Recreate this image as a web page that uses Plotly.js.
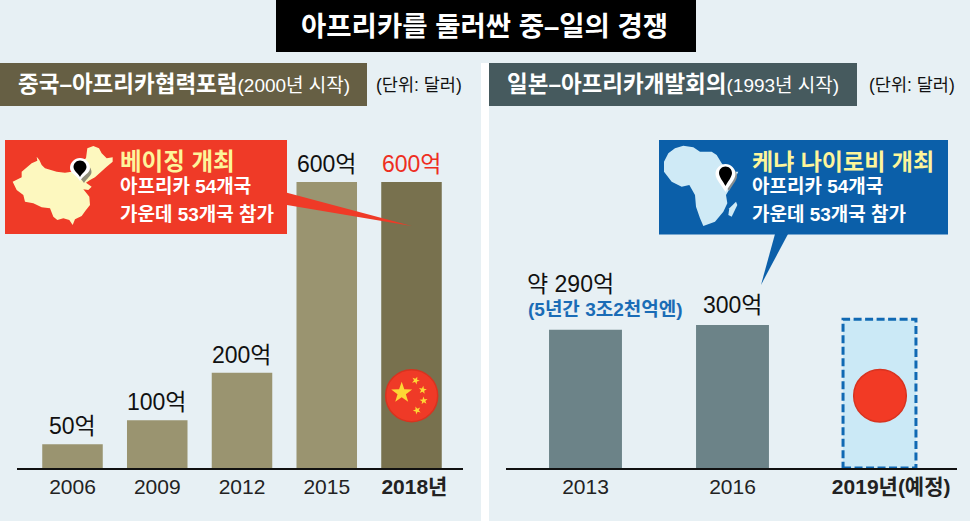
<!DOCTYPE html>
<html><head><meta charset="utf-8">
<script src="https://cdn.plot.ly/plotly-3.0.1.min.js"></script>
<style>html,body{margin:0;padding:0;background:#e7f0f4}</style></head>
<body><div id="chart" style="width:970px;height:521px"></div>
<script>
const W=970,H=521;
const FONT="'Liberation Sans','Noto Sans CJK KR',sans-serif";
const chinaYears=['2006','2009','2012','2015','\u00A0<b>2018년</b>'];
const chinaValues=[50,100,200,600,600];
const chinaLabels=['50억','100억','200억','600억','600억'];
const japanYears=['2013','2016','\u00A0\u00A0\u00A0\u00A0<b>2019년(예정)</b>'];
const japanValues=[290,300,312];
const japanLabels=['약 290억','300억',''];
const OLIVE='#9a9470',OLIVE_D='#78714e',SLATE='#6c8388',PLAN='#cbe9f6',RED='#ef3a27',BLUE='#0b5fa9',DASH='#1069b3',YEL='#fdf59b';

const px=x=>x/W, py=y=>1-y/H;
function pathOf(pts,closed=true){return 'M'+pts.map(p=>px(p[0])+','+py(p[1])).join(' L')+(closed?' Z':'');}
const fromZoom=(zs,ox,oy)=>zs.map(p=>[ox+p[0]/3,oy+p[1]/3]);
const shp=(o)=>Object.assign({xref:'paper',yref:'paper',layer:'above',line:{width:0}},o);
const rect=(x0,y0,x1,y1,fill,layer='above',line)=>shp({type:'rect',x0:px(x0),x1:px(x1),y0:py(y0),y1:py(y1),fillcolor:fill,layer,line:line||{width:0}});
const circ=(cx,cy,r,fill,line)=>shp({type:'circle',x0:px(cx-r),x1:px(cx+r),y0:py(cy-r),y1:py(cy+r),fillcolor:fill,line:line||{width:0}});
const poly=(pts,fill,line)=>shp({type:'path',path:pathOf(pts),fillcolor:fill,line:line||{width:0}});
function star(cx,cy,r,fill,rot=0){const a=[];for(let i=0;i<10;i++){const t=-Math.PI/2+rot+i*Math.PI/5,R=i%2?r*0.4:r;a.push([cx+R*Math.cos(t),cy+R*Math.sin(t)]);}return poly(a,fill);}
function pin(cx,cy,tipY,r,fill){const k=r*0.55;const P=(x,y)=>px(x)+','+py(y);
  return shp({type:'path',fillcolor:fill,path:'M'+P(cx,tipY)+' C'+P(cx-k*.6,tipY-r*.6)+' '+P(cx-r,cy+k)+' '+P(cx-r,cy)+' C'+P(cx-r,cy-k)+' '+P(cx-k,cy-r)+' '+P(cx,cy-r)+' C'+P(cx+k,cy-r)+' '+P(cx+r,cy-k)+' '+P(cx+r,cy)+' C'+P(cx+r,cy+k)+' '+P(cx+k*.6,tipY-r*.6)+' '+P(cx,tipY)+' Z'});}

const chinaOutline=[[262,55],[280,48],[297,55],[305,70],[320,85],[338,82],[338,95],[320,110],[300,128],[285,142],[270,150],[258,158],[275,170],[265,180],[250,178],[268,200],[270,225],[258,240],[245,258],[225,268],[218,285],[208,270],[190,265],[172,270],[160,260],[150,235],[125,232],[100,220],[75,215],[70,195],[50,180],[38,155],[65,142],[65,125],[95,100],[112,92],[110,80],[118,90],[125,105],[135,115],[170,125],[195,128],[215,125],[235,100],[258,85]];
const africaOutline=[[75,55],[100,47],[130,52],[150,65],[185,65],[200,75],[215,100],[235,125],[265,125],[255,145],[240,175],[228,195],[232,220],[220,245],[195,275],[160,288],[150,265],[138,230],[135,195],[118,165],[95,170],[65,155],[42,125],[42,95],[55,70]];
const madagascar=[[258,215],[262,225],[245,260],[235,255],[238,235]];

const base=468;
const shapes=[
 rect(481,63,489,521,'#ffffff','below'),
 rect(276,0,696,52,'#000000'),
 rect(0,63,367,106,'#665f44'),
 rect(489,63,857,106,'#465a5e'),
 // planned bar outline, on the data axes
 {type:'rect',xref:'x2',yref:'y2',x0:2-0.248,x1:2+0.248,y0:0,y1:japanValues[2],layer:'above',line:{color:DASH,width:3,dash:'8px,3.5px'}},
 // red callout
 poly([[287,192.7],[411.7,226],[287,205]],RED),
 rect(5,140,287,234,RED),
 poly(fromZoom(chinaOutline,0,130),'#fdf8bf'),
 pin(84,172,183,7.5,'#8f8d78'),
 pin(80,168,181,10,'#ffffff'),
 pin(80,167,177,6.5,'#000000'),
 // blue callout
 poly([[775,234],[788,234],[761,285]],BLUE),
 rect(659,140,948,234.5,BLUE),
 poly(fromZoom(africaOutline,650,130),'#cfeaf6'),
 poly(fromZoom(madagascar,650,130),'#cfeaf6'),
 pin(729,176,191,8,'#8a8f90'),
 pin(725.5,174,192,10,'#ffffff'),
 pin(725.5,173,186,6.5,'#000000'),
 // flags
 circ(411.7,395.7,26,'#ef3a27',{color:'#d8331f',width:1.5}),
 star(401.7,392.8,11,'#fdd835'),
 star(415.7,380.5,4.2,'#fdd835',0.4),
 star(422.7,390,4.2,'#fdd835',0.15),
 star(423.7,400.7,4.2,'#fdd835',-0.1),
 star(417,410.3,4.2,'#fdd835',-0.4),
 circ(880,395.7,26.3,'#f23a25',{color:'#d8331f',width:1.5}),
];
const txt=(x,y,text,size,color,anchor='left',extra={})=>Object.assign({xref:'paper',yref:'paper',x:px(x),y:py(y),text,showarrow:false,xanchor:anchor,yanchor:'middle',font:{family:FONT,size,color}},extra);
const annotations=[
 txt(484,26,'<b>아프리카를 둘러싼 중–일의 경쟁</b>',27.5,'#ffffff','center'),
 txt(16,85,'<b>중국–아프리카협력포럼</b><span style="font-size:19px">(2000년 시작)</span>',22.5,'#ffffff'),
 txt(505,85,'<b>일본–아프리카개발회의</b><span style="font-size:19px">(1993년 시작)</span>',22.5,'#ffffff'),
 txt(374,85,'(단위: 달러)',17.5,'#111111'),
 txt(867,85,'(단위: 달러)',17.5,'#111111'),
 txt(118,162,'<b>베이징 개최</b>',23.5,YEL),
 txt(118,187,'<b>아프리카 54개국</b>',19,'#ffffff'),
 txt(118,214,'<b>가운데 53개국 참가</b>',19,'#ffffff'),
 txt(750,162,'<b>케냐 나이로비 개최</b>',23,YEL),
 txt(750,187,'<b>아프리카 54개국</b>',19,'#ffffff'),
 txt(750,214,'<b>가운데 53개국 참가</b>',19,'#ffffff'),
 txt(605.5,309,'<b>(5년간 3조2천억엔)</b>',19,'#1a6cb6','center'),
];
chinaLabels.forEach((t,i)=>annotations.push({xref:'x',yref:'y',x:i,y:chinaValues[i],text:t,showarrow:false,yanchor:'bottom',yshift:3,font:{family:FONT,size:23,color:i===4?'#ee2e1f':'#111111'}}));
japanLabels.forEach((t,i)=>{if(t)annotations.push({xref:'x2',yref:'y2',x:i,y:japanValues[i],text:t,showarrow:false,yanchor:'bottom',xshift:i===0?-15:0,yshift:i===0?31:5,font:{family:FONT,size:23,color:'#111111'}});});

const data=[
 {type:'bar',x:chinaYears,y:chinaValues,xaxis:'x',yaxis:'y',width:0.714,marker:{color:[OLIVE,OLIVE,OLIVE,OLIVE,OLIVE_D]},hoverinfo:'skip'},
 {type:'bar',x:japanYears,y:japanValues,xaxis:'x2',yaxis:'y2',width:0.496,marker:{color:[SLATE,SLATE,PLAN]},hoverinfo:'skip'},
];
const yMax=358/(286/600);
const xAxisBase={type:'category',showgrid:false,zeroline:false,showline:true,linecolor:'#111111',linewidth:1.5,ticks:'',ticklabelstandoff:-1,tickfont:{family:FONT,size:21,color:'#222222'},fixedrange:true};
const yAxisBase={range:[0,yMax],visible:false,fixedrange:true,domain:[1-base/H,1-110/H]};
const layout={width:W,height:H,margin:{l:0,r:0,t:0,b:0},paper_bgcolor:'#e7f0f4',plot_bgcolor:'rgba(0,0,0,0)',showlegend:false,
 xaxis:Object.assign({},xAxisBase,{domain:[17/W,463/W],range:[(17-72.5)/84.75,(463-72.5)/84.75],anchor:'y'}),
 yaxis:Object.assign({},yAxisBase,{anchor:'x'}),
 xaxis2:Object.assign({},xAxisBase,{domain:[506/W,957/W],range:[(506-585.5)/147,(957-585.5)/147],anchor:'y2'}),
 yaxis2:Object.assign({},yAxisBase,{anchor:'x2'}),
 shapes,annotations};
Plotly.newPlot('chart',data,layout,{displayModeBar:false,staticPlot:true});
</script></body></html>
